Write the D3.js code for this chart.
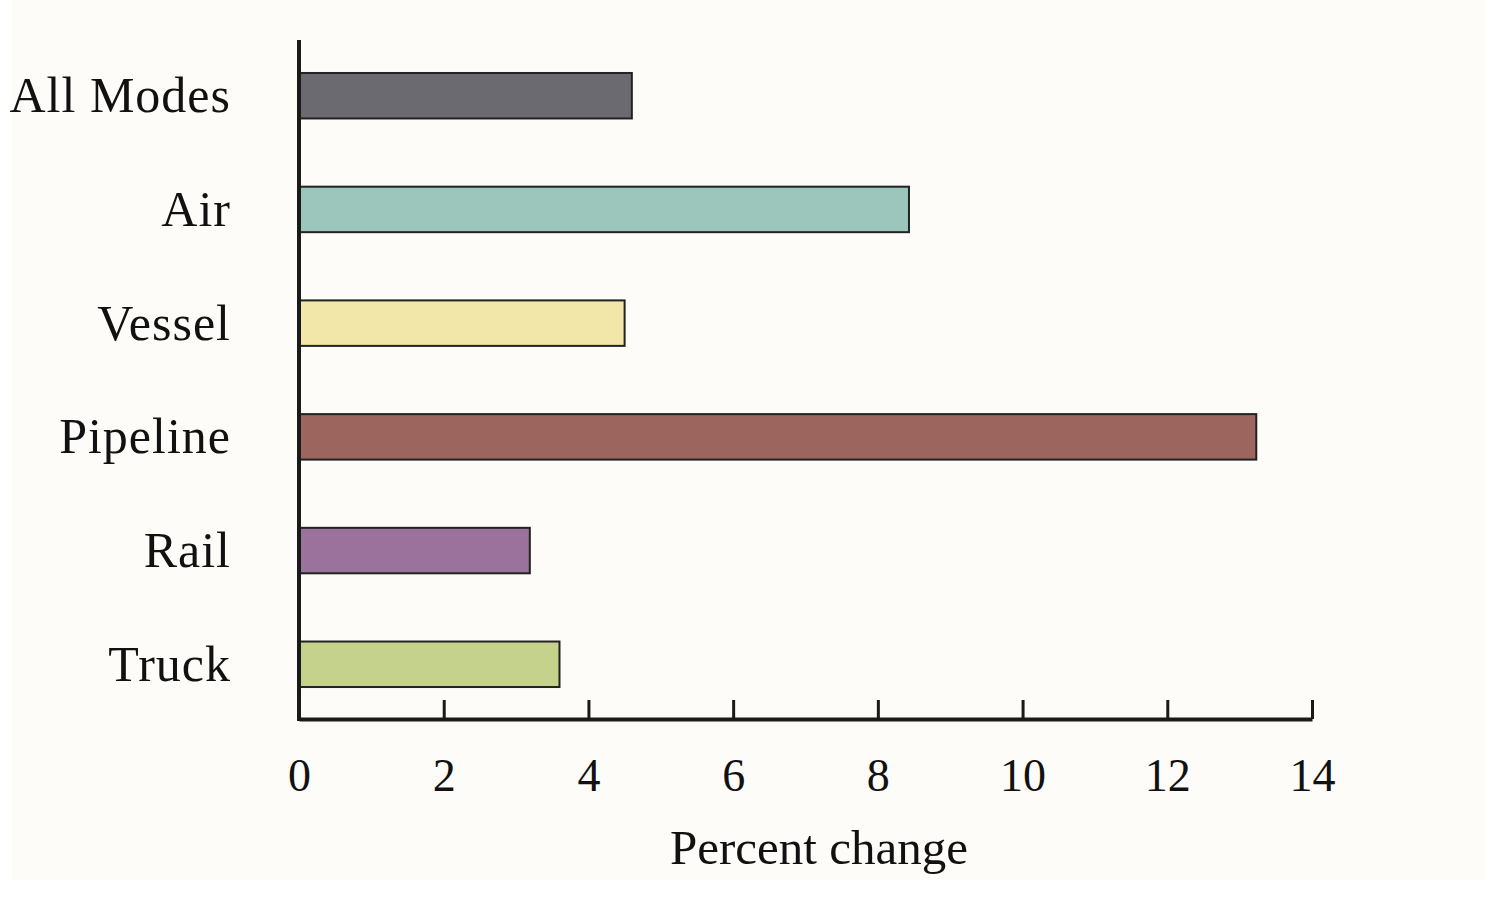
<!DOCTYPE html>
<html>
<head>
<meta charset="utf-8">
<script src="https://cdn.jsdelivr.net/npm/d3@7"></script>
<style>
  body { margin: 0; background: #ffffff; }
  text { font-family: "Liberation Serif", "Times New Roman", serif; fill: #111; }
</style>
</head>
<body>
<div id="chart"></div>
<script>
// data
const modes = ["All Modes", "Air", "Vessel", "Pipeline", "Rail", "Truck"];
const percent_change = [4.6, 8.43, 4.5, 13.23, 3.19, 3.6];
const bar_colors = ["#6b6a70", "#9cc5bb", "#f2e6a8", "#9c665f", "#9a729b", "#c4d28c"];
const x_ticks = [0, 2, 4, 6, 8, 10, 12, 14];
const x_title = "Percent change";

const svgWidth = 1485;
const svgHeight = 919;
const plotLeft = 299, plotRight = 1312, plotTop = 40, plotBottom = 720;
const serif = '"Liberation Serif", "Times New Roman", serif';

let mySvg = d3.select("#chart")
    .append("svg")
    .attr("width", svgWidth)
    .attr("height", svgHeight);

// off-white page
mySvg.append("rect")
    .attr("x", 12).attr("y", 0)
    .attr("width", svgWidth - 12).attr("height", 880)
    .style("fill", "#fdfcf8");

let xScale = d3.scaleLinear()
    .domain([0, 14])
    .range([plotLeft, plotRight]);

let yScale = d3.scaleBand()
    .domain(modes)
    .range([plotTop, plotBottom])
    .paddingInner(0.6)
    .paddingOuter(0.29);

let rows = modes.map((m, i) => ({name: m, value: percent_change[i], color: bar_colors[i]}));

mySvg.selectAll("rect.bar")
    .data(rows)
    .enter()
    .append("rect")
    .attr("class", "bar")
    .attr("x", xScale(0))
    .attr("y", d => yScale(d.name))
    .attr("width", d => xScale(d.value) - xScale(0))
    .attr("height", yScale.bandwidth())
    .style("fill", d => d.color)
    .style("stroke", "#222")
    .style("stroke-width", 2);

// x axis, ticks pointing up
let x_axis = d3.axisBottom(xScale)
    .tickValues(x_ticks)
    .tickFormat(d3.format("d"))
    .tickSizeInner(-19)
    .tickSizeOuter(0)
    .tickPadding(39);

let gx = mySvg.append("g")
    .attr("transform", "translate(0," + (plotBottom - 1) + ")")
    .call(x_axis)
    .attr("font-family", serif)
    .attr("font-size", 46);
gx.select(".domain").attr("stroke", "#1a1a1a").attr("stroke-width", 4);
gx.selectAll(".tick line").attr("stroke", "#1a1a1a").attr("stroke-width", 3);
gx.selectAll(".tick text")
    .style("font-family", serif)
    .style("font-size", "46px")
    .attr("fill", "#111")
    .attr("dy", "0.71em");

// y axis: plain line with category labels
let y_axis = d3.axisLeft(yScale)
    .tickSize(0)
    .tickPadding(68);

let gy = mySvg.append("g")
    .attr("transform", "translate(" + plotLeft + ",0)")
    .call(y_axis)
    .attr("font-family", serif)
    .attr("font-size", 50);
gy.select(".domain").attr("stroke", "#1a1a1a").attr("stroke-width", 4)
    .attr("d", "M0," + plotTop + "V" + (plotBottom + 1));
gy.selectAll(".tick text")
    .style("font-family", serif)
    .style("font-size", "50px")
    .style("letter-spacing", "1px")
    .attr("fill", "#111")
    .attr("dy", "0.33em");

mySvg.append("text")
    .attr("x", 819)
    .attr("y", 864)
    .attr("text-anchor", "middle")
    .style("font-family", serif)
    .style("font-size", "49px")
    .text(x_title);
</script>
</body>
</html>
